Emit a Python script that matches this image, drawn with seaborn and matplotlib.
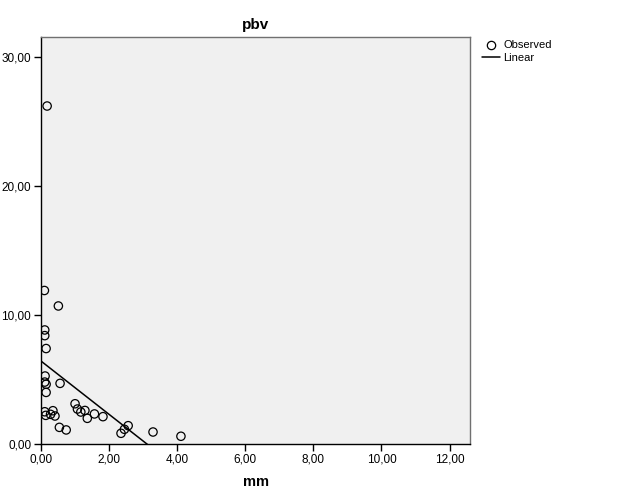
import matplotlib
matplotlib.use('Agg')
import matplotlib.pyplot as plt
import matplotlib.ticker as mticker
from matplotlib.lines import Line2D
import numpy as np
import pandas as pd
import seaborn as sns

mm = [0.18, 0.10, 0.51, 0.11, 0.11, 0.15, 0.12, 0.11, 0.15, 0.56, 0.15,
      0.11, 0.14, 0.28, 0.35, 0.41, 0.54, 0.74, 1.00, 1.07, 1.17, 1.29,
      1.36, 1.57, 1.82, 2.35, 2.45, 2.56, 3.29, 4.11]
pbv = [26.2, 11.9, 10.7, 8.84, 8.40, 7.40, 5.27, 4.80, 4.63, 4.70, 4.00,
       2.50, 2.22, 2.30, 2.58, 2.17, 1.29, 1.09, 3.12, 2.71, 2.48, 2.60,
       1.99, 2.33, 2.12, 0.83, 1.14, 1.42, 0.93, 0.60]
x_ticks = [0, 2, 4, 6, 8, 10, 12]
y_ticks = [0, 10, 20, 30]

df = pd.DataFrame({'mm': mm, 'pbv': pbv})

sns.set_style('white')
plt.rcParams['font.family'] = ['Liberation Sans', 'DejaVu Sans']
plt.rcParams['text.color'] = 'black'
plt.rcParams['axes.labelcolor'] = 'black'
plt.rcParams['xtick.color'] = 'black'
plt.rcParams['ytick.color'] = 'black'

fig = plt.figure(figsize=(6.29, 5.04), dpi=100)
ax = fig.add_axes([41/629, 1 - 444/504, (470 - 41)/629, (444 - 37)/504])
ax.set_facecolor('#f0f0f0')
ax.set_xlim(0, 12.6)
ax.set_ylim(0, 31.55)

sns.scatterplot(data=df, x='mm', y='pbv', ax=ax, marker='o', s=36,
                facecolor='none', edgecolor='black', linewidth=0.9, zorder=3)
sns.regplot(data=df, x='mm', y='pbv', ax=ax, scatter=False, ci=None,
            truncate=False, line_kws={'color': 'black', 'linewidth': 1.1})
ax.set_xlim(0, 12.6)
ax.set_ylim(0, 31.55)

fmt = mticker.FuncFormatter(lambda v, p: f'{v:.2f}'.replace('.', ','))
ax.set_xticks(x_ticks)
ax.set_yticks(y_ticks)
ax.xaxis.set_major_formatter(fmt)
ax.yaxis.set_major_formatter(fmt)
ax.tick_params(axis='both', direction='out', length=5, width=1, color='black',
               labelcolor='black', labelsize=8.5, pad=2, bottom=True, left=True)

for side in ['left', 'bottom']:
    ax.spines[side].set_color('black')
    ax.spines[side].set_linewidth(1)
for side in ['top', 'right']:
    ax.spines[side].set_color('#707070')
    ax.spines[side].set_linewidth(1)

ax.set_xlabel('mm', fontsize=10.5, fontweight='bold', labelpad=7, color='black')
ax.set_ylabel('')
ax.set_title('pbv', fontsize=11, fontweight='bold', pad=6, color='black')

handles = [
    Line2D([], [], marker='o', linestyle='none', markerfacecolor='none',
           markeredgecolor='black', markersize=6, markeredgewidth=0.9),
    Line2D([], [], color='black', linewidth=1.1),
]
fig.legend(handles, ['Observed', 'Linear'], loc='upper left',
           bbox_to_anchor=(478/629, 1 - 36/504), frameon=False, fontsize=8,
           handlelength=1.6, handletextpad=0.3, labelspacing=0.25,
           borderaxespad=0, labelcolor='black')

fig.savefig('out.png', dpi=100)
